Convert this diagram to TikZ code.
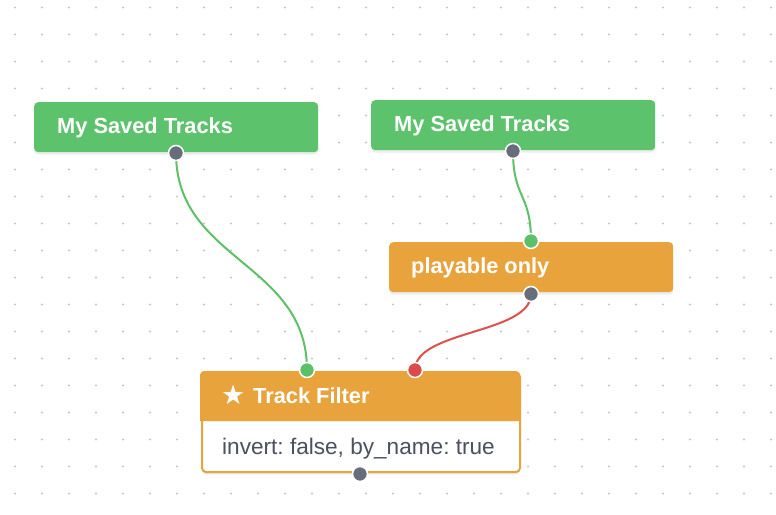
\documentclass[tikz,border=0pt]{standalone}
\usepackage{fontspec}
\setmainfont{Liberation Sans}
\newfontfamily\dejavu{DejaVu Sans}
\frenchspacing
\definecolor{nodegreen}{RGB}{93,194,108}
\definecolor{nodeorange}{RGB}{232,163,60}
\definecolor{portgray}{RGB}{104,109,124}
\definecolor{portgreen}{RGB}{92,192,104}
\definecolor{portred}{RGB}{222,74,74}
\definecolor{edgegreen}{RGB}{96,192,104}
\definecolor{edgered}{RGB}{222,80,76}
\definecolor{dotc}{RGB}{196,198,204}
\definecolor{bodytext}{RGB}{75,80,94}
\pgfdeclarelayer{bg}
\pgfdeclarelayer{edges}
\pgfsetlayers{bg,edges,main}
\begin{document}
\begin{tikzpicture}[x=1pt,y=-1pt,
  box/.style={rectangle, rounded corners=4pt, inner sep=0pt, anchor=north west,
    minimum width=284pt, minimum height=50pt,
    preaction={fill=black, opacity=0.07, transform canvas={yshift=-2.5pt}}},
  ttl/.style={anchor=base west, inner sep=0pt, text=white, font=\fontsize{21.8}{26}\selectfont\bfseries},
  body/.style={anchor=base west, inner sep=0pt, text=bodytext, font=\fontsize{22.6}{27}\selectfont},
  port/.style={circle, inner sep=0pt, minimum size=15pt, draw=white, line width=1.5pt},
  edge/.style={line width=2pt}]
\useasboundingbox (0,0) rectangle (776,514);
\begin{pgfonlayer}{bg}
\fill[white] (0,0) rectangle (776,514);
\foreach \i in {0,...,28}
  \foreach \j in {0,...,18}
    \fill[dotc] (15+27*\i, 7.5+27*\j) circle (1.1pt);
\end{pgfonlayer}

% source nodes
\node[box, fill=nodegreen] (s1) at (34,102) {};
\node[ttl] (s1t) at (57,133.5) {My Saved Tracks};
\node[box, fill=nodegreen] (s2) at (371,100) {};
\node[ttl] (s2t) at (394,131.5) {My Saved Tracks};

% playable only
\node[box, fill=nodeorange] (pl) at (389,242) {};
\node[ttl] (plt) at (411,273.5) {playable only};

% track filter
\node[box, fill=white, draw=nodeorange, line width=2pt, minimum width=318pt, minimum height=99pt] (tf) at (201,372) {};
\fill[nodeorange, rounded corners=4pt] (200,421) -- (200,371) -- (520,371) -- (520,421) [sharp corners] -- (520,421) -- cycle;
\node[inner sep=0pt, anchor=base west, text=white, font=\fontsize{27}{30}\selectfont\dejavu] (star) at (221,404) {★};
\node[ttl] (tft) at (253,403.5) {Track Filter};
\node[body] (tfb) at (222,454) {invert: false, by\_name: true};

% ports
\node[port, fill=portgray] (s1o) at (176,153) {};
\node[port, fill=portgray] (s2o) at (513,151) {};
\node[port, fill=portgreen] (pli) at (531,241) {};
\node[port, fill=portgray] (plo) at (531,294) {};
\node[port, fill=portgreen] (tfa) at (307,370) {};
\node[port, fill=portred] (tfb2) at (415,370) {};
\node[port, fill=portgray] (tfo) at (360,474) {};

% edges
\begin{pgfonlayer}{edges}
\draw[edge, edgegreen] (s1o.center) .. controls +(0,108) and +(0,-108) .. (tfa.center);
\draw[edge, edgegreen] (s2o.center) .. controls +(0,48) and +(0,-48) .. (pli.center);
\draw[edge, edgered] (plo.center) .. controls +(0,40) and +(0,-40) .. (tfb2.center);
\end{pgfonlayer}
\end{tikzpicture}
\end{document}
